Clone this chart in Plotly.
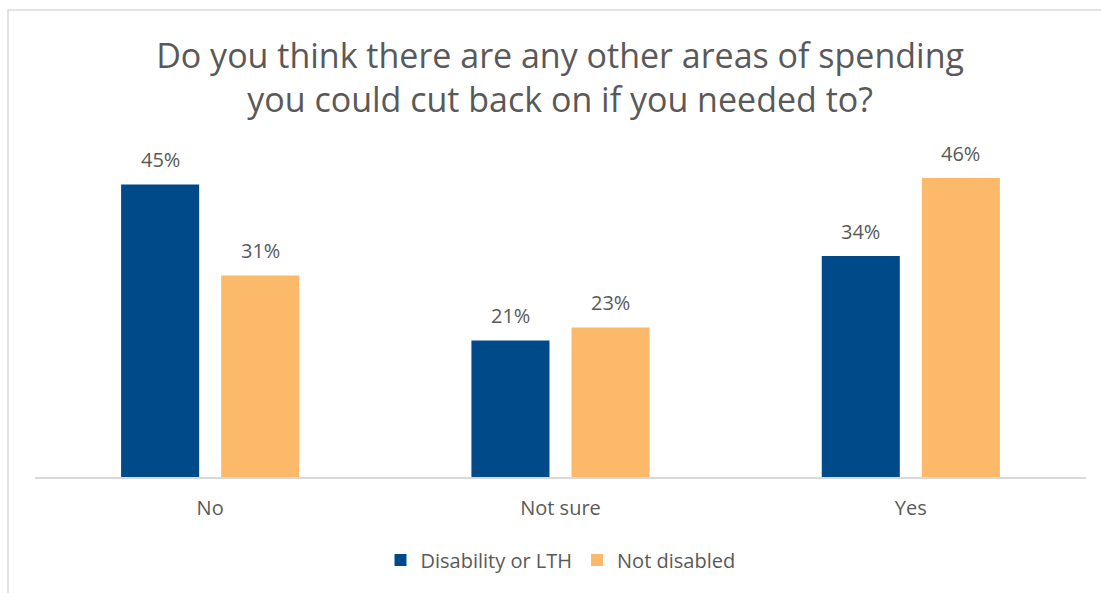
import plotly.graph_objects as go

categories = ["No", "Not sure", "Yes"]
disability_lth = [45, 21, 34]
not_disabled = [31, 23, 46]
series_names = ["Disability or LTH", "Not disabled"]
title_text = "Do you think there are any other areas of spending<br>you could cut back on if you needed to?"

BLUE = "#004A8A"
ORANGE = "#FBB969"
TEXT = "#595959"
FONT = "Open Sans"

W, H = 1101, 593
L, R, T, B = 35, 15, 152, 116

series = [(series_names[0], disability_lth, BLUE, -50),
          (series_names[1], not_disabled, ORANGE, 50)]

fig = go.Figure()
for name, vals, col, _ in series:
    fig.add_trace(go.Bar(
        x=categories, y=vals, name=name,
        marker=dict(color=col, line=dict(width=0)),
        cliponaxis=False,
    ))

# value labels floating above each bar
for name, vals, col, dx in series:
    for cat, v in zip(categories, vals):
        fig.add_annotation(x=cat, y=v, xref="x", yref="y",
                           text=f"{v}%", showarrow=False,
                           xshift=dx, yshift=25, yanchor="middle",
                           font=dict(family=FONT, size=20, color=TEXT))

# outer chart frame in paper coordinates
pw, ph = W - L - R, H - T - B
def px_x(p):
    return (p - L) / pw
def px_y(p):
    return (H - B - p) / ph

fig.add_shape(type="rect", xref="paper", yref="paper",
              x0=px_x(8), x1=px_x(1110), y0=px_y(602), y1=px_y(10),
              line=dict(color="#D9D9D9", width=1.5), fillcolor="rgba(0,0,0,0)",
              layer="below")

fig.update_layout(
    width=W, height=H,
    margin=dict(l=L, r=R, t=T, b=B),
    paper_bgcolor="white", plot_bgcolor="white",
    barmode="group", bargap=0.4286, bargroupgap=0.22,
    title=dict(text=title_text, x=0.5087, xanchor="center",
               y=1 - 68 / H, yanchor="middle",
               font=dict(family=FONT, size=34, color=TEXT)),
    xaxis=dict(showgrid=False, showline=True, linecolor="#D9D9D9", linewidth=1.5,
               ticks="", ticklabelstandoff=12,
               tickfont=dict(family=FONT, size=20, color=TEXT)),
    yaxis=dict(range=[0, 50], visible=False, showgrid=False, zeroline=False),
    legend=dict(orientation="h", x=0.5, xanchor="center",
                y=px_y(560), yanchor="middle",
                font=dict(family=FONT, size=20, color=TEXT),
                itemwidth=30, traceorder="normal"),
    showlegend=True,
)

fig.write_html("out.html")
